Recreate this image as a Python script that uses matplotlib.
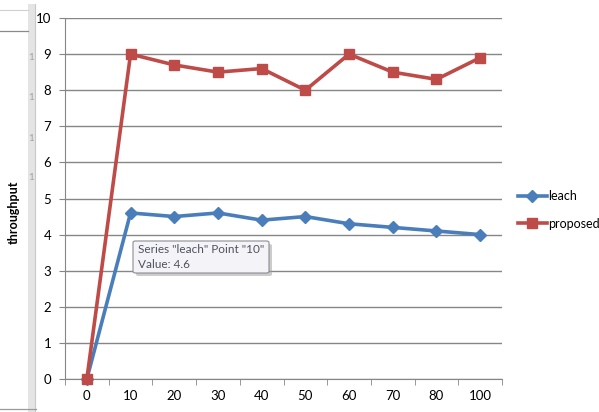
import matplotlib.pyplot as plt
from matplotlib.patches import FancyBboxPatch, Rectangle
from matplotlib.lines import Line2D

plt.rcParams['font.family'] = ['Lato', 'DejaVu Sans']

# datos de la grafica
categorias = ['0', '10', '20', '30', '40', '50', '60', '70', '80', '100']
leach = [0, 4.6, 4.5, 4.6, 4.4, 4.5, 4.3, 4.2, 4.1, 4.0]
proposed = [0, 9.0, 8.7, 8.5, 8.6, 8.0, 9.0, 8.5, 8.3, 8.9]
y_ticks = list(range(0, 11))

W, H = 599, 412
azul = '#4A7EBB'
rojo = '#BE4B48'
gris = '#868686'

def fx(px):
	return px / W

def fy(py):
	return 1 - py / H

fig = plt.figure(figsize=(W / 100, H / 100), dpi=100)
fig.patch.set_facecolor('white')

# barra lateral de la hoja de calculo
fig.patches.append(Rectangle((fx(28), 0), fx(7), fy(4), transform=fig.transFigure,
	facecolor='#e4e4e4', edgecolor='none', zorder=0))
fig.add_artist(Line2D([fx(35), fx(35)], [0, fy(4)], transform=fig.transFigure, color='#c8c8c8', lw=0.8))
fig.add_artist(Line2D([0, fx(28)], [fy(10), fy(10)], transform=fig.transFigure, color='#d0d0d0', lw=0.8))
fig.add_artist(Line2D([0, fx(28)], [fy(31), fy(31)], transform=fig.transFigure, color='#8a8a8a', lw=0.9))
fig.add_artist(Line2D([0, fx(36)], [fy(409), fy(409)], transform=fig.transFigure, color='#9a9a9a', lw=0.9))
for py in [58, 98, 138, 178]:
	fig.text(fx(31), fy(py), '1', fontsize=7, color='#a0a0a0', ha='center', va='center')

ax = fig.add_axes([fx(65), fy(379), fx(502 - 65), (379 - 18) / H])
x = list(range(len(categorias)))

ax.plot(x, leach, color=azul, lw=2.6, marker='D', markersize=6, zorder=3, label='leach')
ax.plot(x, proposed, color=rojo, lw=2.6, marker='s', markersize=7, zorder=4, label='proposed')

ax.set_xlim(-0.5, len(categorias) - 0.5)
ax.set_ylim(0, 10)
ax.set_yticks(y_ticks)
ax.set_yticklabels([str(v) for v in y_ticks], fontsize=9.5)
ax.set_xticks(x)
ax.set_xticklabels(categorias, fontsize=9.5)
ax.set_xticks([i - 0.5 for i in range(len(categorias) + 1)], minor=True)
ax.tick_params(axis='x', which='major', length=0, pad=8)
ax.tick_params(axis='x', which='minor', length=4, color=gris, direction='out')
ax.tick_params(axis='y', length=4, color=gris, direction='out', pad=6)

ax.yaxis.grid(True, color=gris, lw=1)
ax.set_axisbelow(True)
for lado in ['top', 'right']:
	ax.spines[lado].set_visible(False)
for lado in ['left', 'bottom']:
	ax.spines[lado].set_color(gris)
for linea in ax.lines:
	linea.set_clip_on(False)

fig.text(fx(14), fy(212), 'throughput', rotation=90, fontsize=9, fontweight='bold',
	ha='center', va='center')

fig.legend(loc='center left', bbox_to_anchor=(fx(518), fy(210)), frameon=False, fontsize=9,
	handlelength=2.3, labelspacing=1.2, handletextpad=0.1, borderaxespad=0, borderpad=0)

# cuadro de informacion del punto
fig.patches.append(FancyBboxPatch((fx(136), fy(276)), fx(136), (276 - 244) / H,
	boxstyle='round,pad=0,rounding_size=0.004', transform=fig.transFigure,
	facecolor='#9a9a9a', edgecolor='none', alpha=0.5, zorder=5))
fig.patches.append(FancyBboxPatch((fx(133), fy(273)), fx(136), (273 - 241) / H,
	boxstyle='round,pad=0,rounding_size=0.004', transform=fig.transFigure,
	facecolor='#f4f4f8', edgecolor='#8c8c94', lw=0.8, zorder=6))
fig.text(fx(138), fy(250), 'Series "leach" Point "10"', fontsize=8.5, color='#505060',
	ha='left', va='center', zorder=7)
fig.text(fx(138), fy(265), 'Value: 4.6', fontsize=8.5, color='#505060',
	ha='left', va='center', zorder=7)

fig.savefig('out.png', dpi=100)
